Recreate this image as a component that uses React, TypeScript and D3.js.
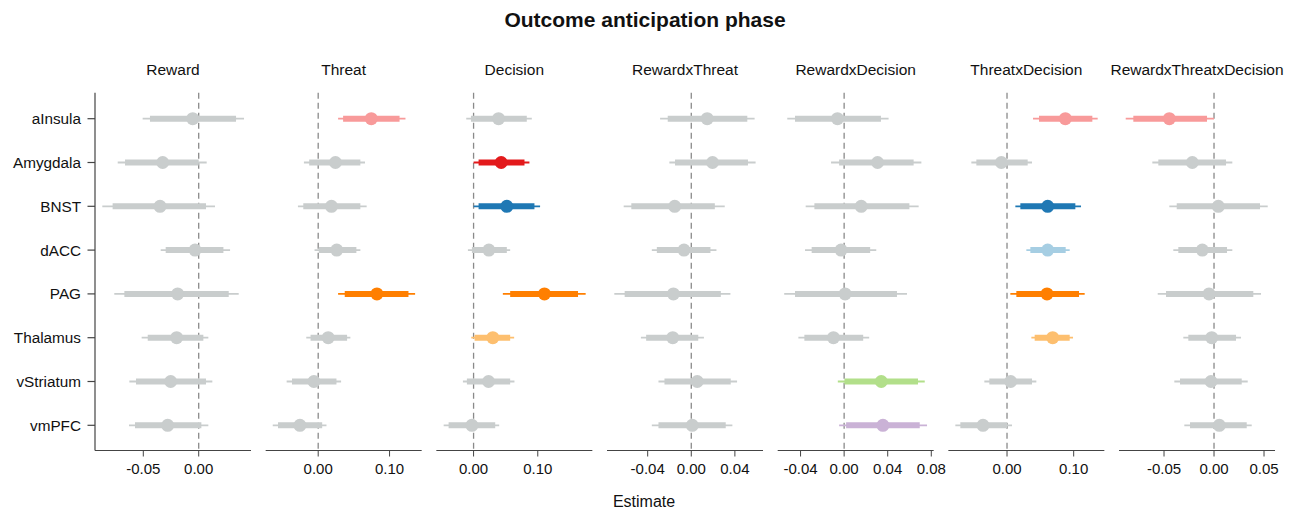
import * as d3 from 'd3';

// regions (rows) and effects (panels)
const regions = ['aInsula', 'Amygdala', 'BNST', 'dACC', 'PAG', 'Thalamus', 'vStriatum', 'vmPFC'];
const panels = ['Reward', 'Threat', 'Decision', 'RewardxThreat', 'RewardxDecision', 'ThreatxDecision', 'RewardxThreatxDecision'];

// colour of each region when its effect is credible (Paired palette)
const regionColors = ['#f89a9a', '#e31a1c', '#1f78b4', '#a6cee3', '#ff7f00', '#fdbf6f', '#b2df8a', '#cab2d6'];
const greyColor = '#c9cdcd';

// per region: [estimate, innerLo, innerHi, outerLo, outerHi]
const reward = [
    [-0.0054, -0.044, 0.0337, -0.0506, 0.0409],
    [-0.0325, -0.0665, 0.0, -0.0731, 0.0072],
    [-0.0349, -0.0777, 0.0066, -0.087, 0.0147],
    [-0.0033, -0.0298, 0.0223, -0.0343, 0.0283],
    [-0.019, -0.0671, 0.0271, -0.0762, 0.0361],
    [-0.0199, -0.046, 0.0042, -0.0515, 0.0087],
    [-0.0253, -0.0566, 0.0066, -0.0626, 0.0123],
    [-0.028, -0.0575, 0.0024, -0.0629, 0.0087],
];
const threat = [
    [0.0744, 0.0349, 0.114, 0.0279, 0.1223],
    [0.0242, -0.0126, 0.0591, -0.02, 0.0656],
    [0.0186, -0.0209, 0.0591, -0.0284, 0.0679],
    [0.026, 0.0009, 0.0535, -0.0051, 0.0591],
    [0.0823, 0.0372, 0.1265, 0.0279, 0.1358],
    [0.014, -0.0107, 0.0405, -0.0167, 0.0451],
    [-0.006, -0.0367, 0.0256, -0.0442, 0.0321],
    [-0.0256, -0.0563, 0.0056, -0.0637, 0.0116],
];
const decision = [
    [0.0389, -0.0041, 0.0829, -0.0114, 0.0907],
    [0.043, 0.0078, 0.0793, 0.0, 0.087],
    [0.0518, 0.0078, 0.0948, 0.0, 0.1036],
    [0.0238, -0.0026, 0.0518, -0.0088, 0.057],
    [0.1104, 0.057, 0.1627, 0.0456, 0.1746],
    [0.03, 0.0016, 0.057, -0.0036, 0.0632],
    [0.0233, -0.0104, 0.057, -0.0166, 0.0637],
    [-0.0026, -0.0389, 0.0337, -0.0466, 0.0399],
];
const rewardThreat = [
    [0.0146, -0.0216, 0.0514, -0.0286, 0.0581],
    [0.0195, -0.0149, 0.052, -0.0201, 0.059],
    [-0.0152, -0.055, 0.0216, -0.062, 0.0307],
    [-0.0067, -0.0316, 0.0176, -0.0362, 0.0231],
    [-0.0164, -0.0611, 0.0271, -0.0706, 0.0359],
    [-0.017, -0.0414, 0.0064, -0.0462, 0.0116],
    [0.0055, -0.0246, 0.0362, -0.0301, 0.042],
    [0.0009, -0.0301, 0.0316, -0.0362, 0.0377],
];
const rewardDecision = [
    [-0.0061, -0.0451, 0.0338, -0.0522, 0.0408],
    [0.0307, -0.0046, 0.0638, -0.012, 0.0709],
    [0.0157, -0.0273, 0.0599, -0.0353, 0.0684],
    [-0.0028, -0.0298, 0.0239, -0.0359, 0.0295],
    [0.0009, -0.0451, 0.0485, -0.055, 0.0577],
    [-0.0098, -0.0365, 0.0175, -0.042, 0.023],
    [0.0341, 0.0003, 0.0678, -0.0058, 0.074],
    [0.0356, 0.0018, 0.0694, -0.0046, 0.0761],
];
const threatDecision = [
    [0.0875, 0.048, 0.128, 0.039, 0.136],
    [-0.0085, -0.046, 0.031, -0.0535, 0.0375],
    [0.061, 0.02, 0.1025, 0.0125, 0.111],
    [0.061, 0.035, 0.088, 0.029, 0.094],
    [0.06, 0.014, 0.108, 0.005, 0.1165],
    [0.0685, 0.0415, 0.094, 0.0365, 0.099],
    [0.0055, -0.0265, 0.0375, -0.034, 0.044],
    [-0.036, -0.07, 0.0, -0.0775, 0.0075],
];
const rewardThreatDecision = [
    [-0.0447, -0.0807, -0.007, -0.0883, 0.0],
    [-0.0217, -0.0557, 0.012, -0.0617, 0.0183],
    [0.0043, -0.0373, 0.046, -0.0447, 0.0537],
    [-0.0117, -0.0357, 0.013, -0.0407, 0.0183],
    [-0.005, -0.048, 0.0393, -0.0563, 0.047],
    [-0.0023, -0.0257, 0.022, -0.0307, 0.027],
    [-0.003, -0.034, 0.0277, -0.0397, 0.0337],
    [0.0053, -0.024, 0.0327, -0.0297, 0.0377],
];

// 1 = coloured (credible), 0 = grey
const rewardSig = [0, 0, 0, 0, 0, 0, 0, 0];
const threatSig = [1, 0, 0, 0, 1, 0, 0, 0];
const decisionSig = [0, 1, 1, 0, 1, 1, 0, 0];
const rewardThreatSig = [0, 0, 0, 0, 0, 0, 0, 0];
const rewardDecisionSig = [0, 0, 0, 0, 0, 0, 1, 1];
const threatDecisionSig = [1, 0, 1, 1, 1, 1, 0, 0];
const rewardThreatDecisionSig = [1, 0, 0, 0, 0, 0, 0, 0];

const xDomains = [
    [-0.0936, 0.0472],
    [-0.0736, 0.145],
    [-0.058, 0.185],
    [-0.0773, 0.0658],
    [-0.061, 0.0822],
    [-0.088, 0.146],
    [-0.095, 0.061],
];
const xTicks = [
    [-0.05, 0],
    [0, 0.1],
    [0, 0.1],
    [-0.04, 0, 0.04],
    [-0.04, 0, 0.04, 0.08],
    [0, 0.1],
    [-0.05, 0, 0.05],
];

const panelData = [reward, threat, decision, rewardThreat, rewardDecision, threatDecision, rewardThreatDecision];
const panelSig = [rewardSig, threatSig, decisionSig, rewardThreatSig, rewardDecisionSig, threatDecisionSig, rewardThreatDecisionSig];

const W = 1297;
const H = 513;
const font = '"Liberation Sans", Arial, Helvetica, sans-serif';

export default function App() {
    const left0 = 95;
    const panelW = 156;
    const step = 170.67;
    const top = 92.7;
    const axisY = 450.5;

    const y = d3.scalePoint<string>().domain(regions).range([118.7, 425.3]);

    return (
        <svg width={W} height={H} style={{ position: 'absolute', left: 0, top: 0, background: '#fff' }} fontFamily={font}>
            <text x={645} y={27} textAnchor="middle" fontSize={21} fontWeight="bold" fill="#111">
                Outcome anticipation phase
            </text>

            {/* y axis on first panel */}
            <line x1={left0} x2={left0} y1={top} y2={axisY} stroke="#444" strokeWidth={1.2} />
            {regions.map(r => (
                <g key={r}>
                    <line x1={left0 - 7.5} x2={left0} y1={y(r)} y2={y(r)} stroke="#444" strokeWidth={1.2} />
                    <text x={81} y={(y(r) || 0) + 5.5} textAnchor="end" fontSize={15.3} fill="#111">{r}</text>
                </g>
            ))}

            {panels.map((p, pi) => {
                const x0 = left0 + pi * step;
                const x = d3.scaleLinear().domain(xDomains[pi]).range([x0, x0 + panelW]);
                const rows = panelData[pi];
                const sig = panelSig[pi];
                return (
                    <g key={p}>
                        <text x={x0 + panelW / 2} y={75} textAnchor="middle" fontSize={15.5} fill="#111">{p}</text>
                        <line x1={x(0)} x2={x(0)} y1={top} y2={axisY} stroke="#8a8a8a" strokeWidth={1.3} strokeDasharray="6,4" />
                        {rows.map((d, ri) => {
                            const yy = y(regions[ri]) || 0;
                            const c = sig[ri] ? regionColors[ri] : greyColor;
                            return (
                                <g key={ri}>
                                    <line x1={x(d[3])} x2={x(d[4])} y1={yy} y2={yy} stroke={c} strokeWidth={1.8} />
                                    <line x1={x(d[1])} x2={x(d[2])} y1={yy} y2={yy} stroke={c} strokeWidth={6} />
                                    <circle cx={x(d[0])} cy={yy} r={6.5} fill={c} />
                                </g>
                            );
                        })}
                        <line x1={x0} x2={x0 + panelW} y1={axisY} y2={axisY} stroke="#444" strokeWidth={1.2} />
                        {xTicks[pi].map(t => (
                            <g key={t}>
                                <line x1={x(t)} x2={x(t)} y1={axisY} y2={axisY + 6} stroke="#444" strokeWidth={1} />
                                <text x={x(t)} y={474} textAnchor="middle" fontSize={15} fill="#111">
                                    {t.toFixed(2)}
                                </text>
                            </g>
                        ))}
                    </g>
                );
            })}

            <text x={644} y={507} textAnchor="middle" fontSize={16} fill="#111">Estimate</text>
        </svg>
    );
}
